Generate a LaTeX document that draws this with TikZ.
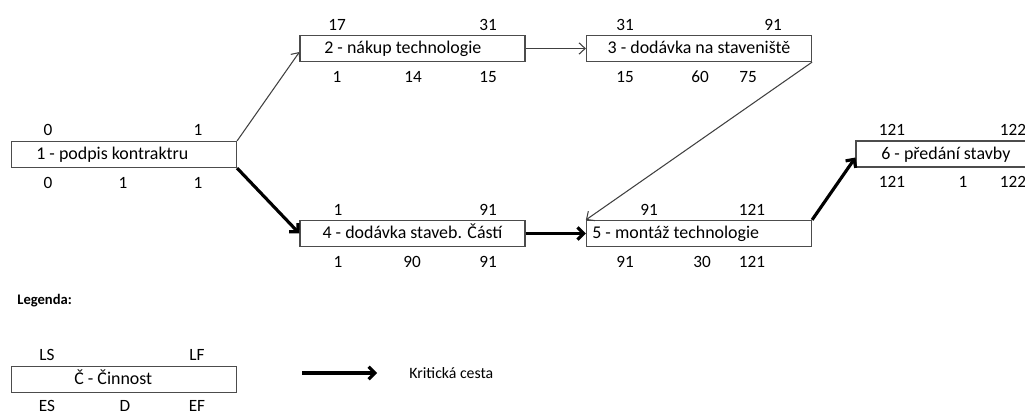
\documentclass[tikz,border=0pt]{standalone}
\usepackage{fontspec}
\setmainfont{Carlito}
\usetikzlibrary{arrows.meta, positioning}

\begin{document}
\begin{tikzpicture}[
    x=0.02cm, y=-0.02cm,
    box/.style={rectangle, draw=black!70, line width=0.7pt, minimum width=4.5cm, minimum height=0.52cm, inner sep=0pt},
    actname/.style={inner sep=0pt, text height=1.6ex, text depth=0.4ex, font=\fontsize{10.2}{12}\selectfont},
    num/.style={inner sep=0pt, text height=1.35ex, text depth=0pt, font=\fontsize{9.8}{11}\selectfont},
    link/.style={-{Straight Barb[length=3.5pt, width=6.5pt]}, line width=0.6pt, black!75},
    crit/.style={-{Straight Barb[length=3.5pt, width=7pt]}, line width=1.8pt, black}
]
    \useasboundingbox (0,0) rectangle (1025,412);
    \clip (0,0) rectangle (1025,412);

    % Activities
    \node[box] (a1) at (124,154.5) {};
    \node[box] (a2) at (412.5,48.5) {};
    \node[box] (a3) at (699,48.5) {};
    \node[box] (a4) at (412.5,233.5) {};
    \node[box] (a5) at (699,233.5) {};
    \node[box] (a6) at (968.5,154) {};

    % Activity names
    \node[actname, anchor=west] (t1) at (36,154.5) {1 - podpis kontraktru};
    \node[actname, anchor=west] (t2) at (324,48.5) {2 - nákup technologie};
    \node[actname] (t3) at (699,48.5) {3 - dodávka na staveniště};
    \node[actname] (t4) at (412.5,233.5) {4 - dodávka staveb. Částí};
    \node[actname, anchor=west] (t5) at (592,233.5) {5 - montáž technologie};
    \node[actname, anchor=west] (t6) at (881,154) {6 - předání stavby};

    % LS, LF / ES, D, EF
    \foreach \n/\x/\y/\v in {
        a1ls/48/130/0, a1lf/198/130/1, a1es/48/183/0, a1d/123/183/1, a1ef/198/183/1,
        a2ls/337/25/17, a2lf/488/25/31, a2es/337/77/1, a2d/413/77/14, a2ef/488/77/15,
        a3ls/625/25/31, a3lf/773/25/91, a3es/625/77/15, a3d/700/77/60, a3ef/748/77/75,
        a4ls/338/210/1, a4lf/488/210/91, a4es/338/262/1, a4d/412/262/90, a4ef/488/262/91,
        a5ls/649/210/91, a5lf/752/210/121, a5es/625/262/91, a5d/702/262/30, a5ef/752/262/121,
        a6ls/892/130/121, a6lf/1013/130/122, a6es/892/182/121, a6d/963/182/1, a6ef/1013/182/122} {
        \node[num] (\n) at (\x,\y) {\v};
    }

    % Links
    \draw[link] (a1.north east) -- ([yshift=-2pt]a2.west);
    \draw[link] (a2.east) -- (a3.west);
    \draw[link] (a3.south east) -- (a5.north west);
    \draw[crit] (a1.south east) -- (a4.west);
    \draw[crit] (a4.east) -- (a5.west);
    \draw[crit] (a5.north east) -- ([yshift=-2pt]a6.west);

    % Legend
    \node[anchor=west, inner sep=0pt, font=\fontsize{8.3}{10}\selectfont\bfseries] (leg) at (17,301) {Legenda:};
    \node[box] (lb) at (124,379.5) {};
    \node[actname, anchor=west] (lt) at (74,379.5) {Č - Činnost};
    \foreach \n/\x/\y/\v in {lls/47/355/LS, llf/197/355/LF, les/47/406/ES, ld/125/406/D, lef/197/406/EF} {
        \node[num] (\n) at (\x,\y) {\v};
    }
    \coordinate (k1) at (302,373);
    \coordinate (k2) at (377,373);
    \draw[crit] (k1) -- (k2);
    \node[anchor=west, inner sep=0pt, font=\fontsize{9}{10}\selectfont] (kc) at (409,373) {Kritická cesta};

\end{tikzpicture}
\end{document}
